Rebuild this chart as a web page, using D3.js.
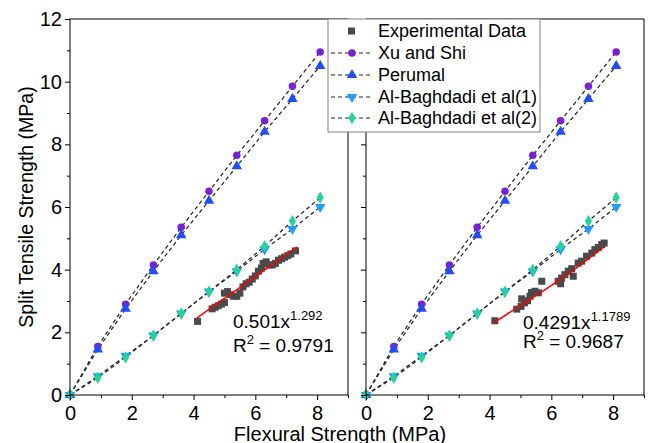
<!DOCTYPE html>
<html>
<head>
<meta charset="utf-8">
<script src="https://cdn.jsdelivr.net/npm/d3@7"></script>
<style>
  body { margin: 0; background: #fff; }
  svg text { font-family: "Liberation Sans", Arial, sans-serif; fill: #000; }
</style>
</head>
<body>
<div id="chart"></div>
<script>
// model inputs (flexural strength, MPa)
const modelX = [0, 0.9, 1.8, 2.7, 3.6, 4.5, 5.4, 6.3, 7.2, 8.1];
const xuShi = [0, 1.55, 2.9, 4.15, 5.35, 6.5, 7.65, 8.75, 9.85, 10.95];
const perumal = [0, 1.45, 2.75, 3.95, 5.1, 6.2, 7.3, 8.4, 9.45, 10.5];
const baghdadi1 = [0, 0.6, 1.25, 1.9, 2.6, 3.3, 3.95, 4.65, 5.3, 6.0];
const baghdadi2 = [0, 0.55, 1.2, 1.9, 2.6, 3.3, 4.0, 4.75, 5.55, 6.3];

// experimental data, left panel
const expLeftX = [4.13, 4.6, 4.7, 4.8, 4.9, 5.0, 5.0, 5.1, 5.2, 5.3, 5.4, 5.5, 5.6, 5.7, 5.8, 5.9, 6.0, 6.1, 6.2, 6.25, 6.35, 6.45, 6.55, 6.65, 6.75, 6.85, 6.95, 7.05, 7.15, 7.3];
const expLeftY = [2.35, 2.75, 2.8, 2.85, 2.9, 2.95, 3.25, 3.3, 3.2, 3.15, 3.15, 3.25, 3.45, 3.55, 3.6, 3.7, 3.8, 3.95, 4.05, 4.2, 4.25, 4.15, 4.15, 4.2, 4.3, 4.35, 4.4, 4.45, 4.5, 4.6];
// experimental data, right panel
const expRightX = [4.17, 4.88, 5.02, 5.13, 5.04, 5.23, 5.31, 5.36, 5.47, 5.58, 5.69, 6.22, 6.33, 6.44, 6.55, 6.66, 6.71, 6.3, 6.87, 6.98, 7.14, 7.31, 7.41, 7.52, 7.63, 7.71];
const expRightY = [2.37, 2.74, 2.83, 2.94, 3.07, 3.01, 3.15, 3.27, 3.31, 3.26, 3.63, 3.63, 3.73, 3.84, 3.95, 4.03, 3.79, 3.55, 4.21, 4.27, 4.43, 4.53, 4.64, 4.71, 4.8, 4.85];

// fitted curves
const fitLeftX = [4.1, 5.7, 7.35];
const fitLeftY = [2.45, 3.57, 4.73];
const fitRightX = [4.12, 5.0, 5.9, 6.8, 7.7];
const fitRightY = [2.29, 2.86, 3.43, 4.05, 4.73];

const fitLabels = [
  {coef: "0.501x", exp: "1.292", r2: "0.9791"},
  {coef: "0.4291x", exp: "1.1789", r2: "0.9687"}
];

const xTicks = [0, 2, 4, 6, 8];
const yTicks = [0, 2, 4, 6, 8, 10, 12];

const width = 658, height = 443;
const plotTop = 19, plotBottom = 395;

const svg = d3.select("#chart").append("svg")
  .attr("width", width).attr("height", height);

const y = d3.scaleLinear().domain([0, 12]).range([plotBottom, plotTop]);
const panels = [
  {x: d3.scaleLinear().domain([0, 9]).range([70, 348]), expX: expLeftX, expY: expLeftY, fitX: fitLeftX, fitY: fitLeftY, label: fitLabels[0], labelX: 233, base: [328, 352], yLabels: true},
  {x: d3.scaleLinear().domain([0, 9]).range([366, 644]), expX: expRightX, expY: expRightY, fitX: fitRightX, fitY: fitRightY, label: fitLabels[1], labelX: 523, base: [329, 348], yLabels: false}
];

const series = [
  {name: "Xu and Shi", vals: xuShi, color: "#7a1fd8", shape: d3.symbolCircle, size: 44},
  {name: "Perumal", vals: perumal, color: "#1f4cff", shape: d3.symbolTriangle, size: 48},
  {name: "Al-Baghdadi et al(1)", vals: baghdadi1, color: "#1e9cff", shape: "down", size: 48},
  {name: "Al-Baghdadi et al(2)", vals: baghdadi2, color: "#1fd597", shape: d3.symbolDiamond, size: 44}
];

function symbolPath(s) {
  if (s.shape === "down") return d3.symbol(d3.symbolTriangle, s.size)();
  return d3.symbol(s.shape, s.size)();
}
function symbolRot(s) { return s.shape === "down" ? " rotate(180)" : ""; }

panels.forEach(p => {
  const g = svg.append("g");

  // dashed model lines
  series.forEach(s => {
    const line = d3.line().x((d, i) => p.x(modelX[i])).y(d => y(d));
    g.append("path").datum(s.vals)
      .attr("d", line)
      .attr("fill", "none")
      .attr("stroke", "#222")
      .attr("stroke-width", 1.2)
      .attr("stroke-dasharray", "4,3");
  });

  // model markers
  series.forEach(s => {
    g.selectAll(null).data(s.vals).enter().append("path")
      .attr("d", symbolPath(s))
      .attr("transform", (d, i) => `translate(${p.x(modelX[i])},${y(d)})` + symbolRot(s))
      .attr("fill", s.color);
  });

  // experimental squares
  g.selectAll(null).data(p.expY).enter().append("rect")
    .attr("x", (d, i) => p.x(p.expX[i]) - 3.5)
    .attr("y", d => y(d) - 3.5)
    .attr("width", 7).attr("height", 7)
    .attr("fill", "#4a4a4a");

  // fit curve
  g.append("path").datum(p.fitY)
    .attr("d", d3.line().curve(d3.curveMonotoneX).x((d, i) => p.x(p.fitX[i])).y(d => y(d)))
    .attr("fill", "none")
    .attr("stroke", "#ff0000")
    .attr("stroke-width", 1.5);

  // fit equation
  const t1 = g.append("text").attr("x", p.labelX).attr("y", p.base[0]).style("font-size", "19px");
  t1.append("tspan").text(p.label.coef);
  t1.append("tspan").attr("dy", -8).style("font-size", "13px").text(p.label.exp);
  const t2 = g.append("text").attr("x", p.labelX).attr("y", p.base[1]).style("font-size", "19px");
  t2.append("tspan").text("R");
  t2.append("tspan").attr("dy", -8).style("font-size", "13px").text("2");
  t2.append("tspan").attr("dy", 8).text(" = " + p.label.r2);

  // frame
  svg.append("rect")
    .attr("x", p.x.range()[0]).attr("y", plotTop)
    .attr("width", p.x.range()[1] - p.x.range()[0]).attr("height", plotBottom - plotTop)
    .attr("fill", "none").attr("stroke", "#000").attr("stroke-width", 1);

  // x axis
  const xa = svg.append("g").attr("transform", `translate(0,${plotBottom})`)
    .call(d3.axisBottom(p.x).tickValues(d3.range(0, 10)).tickSize(5).tickPadding(6)
      .tickFormat(d => xTicks.includes(d) ? d : ""));
  xa.select(".domain").remove();
  xa.selectAll(".tick line").attr("y2", d => xTicks.includes(d) ? 5 : 3);
  xa.selectAll(".tick text").style("font-size", "20px").attr("font-family", null);

  // y axis
  const ya = svg.append("g").attr("transform", `translate(${p.x.range()[0]},0)`)
    .call(d3.axisLeft(y).tickValues(d3.range(0, 13)).tickSize(5).tickPadding(3)
      .tickFormat(d => p.yLabels && yTicks.includes(d) ? d : ""));
  ya.select(".domain").remove();
  ya.selectAll(".tick line").attr("x2", d => yTicks.includes(d) ? -5 : -3);
  ya.selectAll(".tick text").style("font-size", "20px").attr("font-family", null);
});

// axis titles
svg.append("text")
  .attr("transform", `translate(33,207) rotate(-90)`)
  .attr("text-anchor", "middle")
  .style("font-size", "19.5px")
  .text("Split Tensile Strength (MPa)");
svg.append("text")
  .attr("x", 340).attr("y", 441)
  .attr("text-anchor", "middle")
  .style("font-size", "20px")
  .text("Flexural Strength (MPa)");

// legend
const lg = svg.append("g");
lg.append("rect")
  .attr("x", 328).attr("y", plotTop).attr("width", 212).attr("height", 113)
  .attr("fill", "#fff").attr("stroke", "#808080").attr("stroke-width", 1);
const rowY = [31, 53, 75, 97, 118];
lg.append("rect").attr("x", 348).attr("y", rowY[0] - 3.5).attr("width", 7).attr("height", 7).attr("fill", "#4a4a4a");
lg.append("text").attr("x", 378).attr("y", rowY[0] + 6).style("font-size", "18px").text("Experimental Data");
series.forEach((s, i) => {
  const yy = rowY[i + 1];
  lg.append("line").attr("x1", 331).attr("x2", 373).attr("y1", yy).attr("y2", yy)
    .attr("stroke", "#222").attr("stroke-width", 1.1).attr("stroke-dasharray", "4,3");
  lg.append("path").attr("d", symbolPath(s))
    .attr("transform", `translate(352,${yy})` + symbolRot(s)).attr("fill", s.color);
  lg.append("text").attr("x", 378).attr("y", yy + 6).style("font-size", "18px").text(s.name);
});
</script>
</body>
</html>
